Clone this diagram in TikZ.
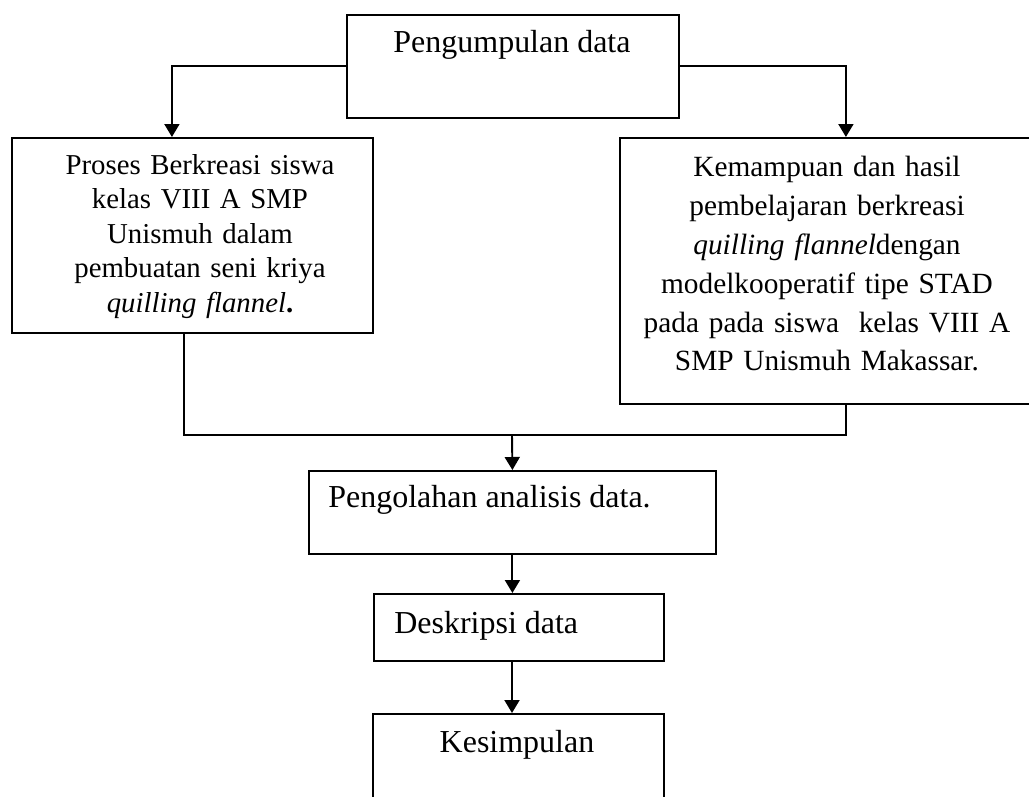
\documentclass[tikz,border=0pt]{standalone}
\usepackage{fontspec}
\setmainfont{Liberation Serif}
\usepackage{tikz}
\usetikzlibrary{arrows.meta,positioning}

\begin{document}
\begin{tikzpicture}[x=0.02cm, y=-0.02cm,
    block/.style={draw, line width=1.1pt, inner sep=0pt, anchor=north west},
    txt/.style={inner sep=0pt, font=\fontsize{18.2}{22}\selectfont},
    link/.style={line width=1.1pt, -{Triangle[length=0.26cm, width=0.3cm]}}]
  \useasboundingbox (0,0) rectangle (1029,797);
  % boxes
  \node[block, minimum width=6.64cm, minimum height=2.06cm] (collect) at (346,14) {};
  \node[block, minimum width=7.22cm, minimum height=3.90cm] (process) at (11,137) {};
  \node[block, minimum width=8.32cm, minimum height=5.32cm] (ability) at (619,137) {};
  \node[block, minimum width=8.14cm, minimum height=1.66cm] (analysis) at (308,470) {};
  \node[block, minimum width=5.80cm, minimum height=1.34cm] (describe) at (373,593) {};
  \node[block, minimum width=5.82cm, minimum height=2.20cm] (conclude) at (372,713) {};
  % texts
  \node[txt, anchor=base] (collecttxt) at (512,53) {Pengumpulan data};
  \node[txt, anchor=north, text width=6cm, align=center,
        font=\fontsize{16.4}{19.6}\selectfont] (processtxt) at (200,154)
    {Proses Berkreasi siswa\\ kelas VIII A SMP\\ Unismuh dalam\\ pembuatan seni kriya\\ \textit{quilling flannel}\textbf{.}};
  \node[txt, anchor=north, text width=7.6cm, align=center,
        font=\fontsize{16.7}{22.1}\selectfont] (abilitytxt) at (827,156)
    {Kemampuan dan hasil\\ pembelajaran berkreasi\\ \textit{quilling flannel}dengan\\ modelkooperatif tipe STAD\\ pada pada siswa\ \ kelas VIII A\\ SMP Unismuh Makassar.};
  \node[txt, anchor=base west] (analysistxt) at (328,508) {Pengolahan analisis data.};
  \node[txt, anchor=base west] (describetxt) at (394,633) {Deskripsi data};
  \node[txt, anchor=base] (concludetxt) at (517,752) {Kesimpulan};
  % connectors
  \coordinate (merge) at (512,435);
  \draw[link] (collect.west) -| ([xshift=-0.41cm]process.north);
  \draw[link] (collect.east) -| ([xshift=0.36cm]ability.north);
  \draw[line width=1.1pt] ([xshift=-0.17cm]process.south) |- (merge) -| ([xshift=0.36cm]ability.south);
  \draw[link] (merge) -- (analysis.north);
  \draw[link] (analysis.south) -- (analysis.south |- describe.north);
  \draw[link] (describe.south -| merge) -- (conclude.north -| merge);
\end{tikzpicture}
\end{document}
